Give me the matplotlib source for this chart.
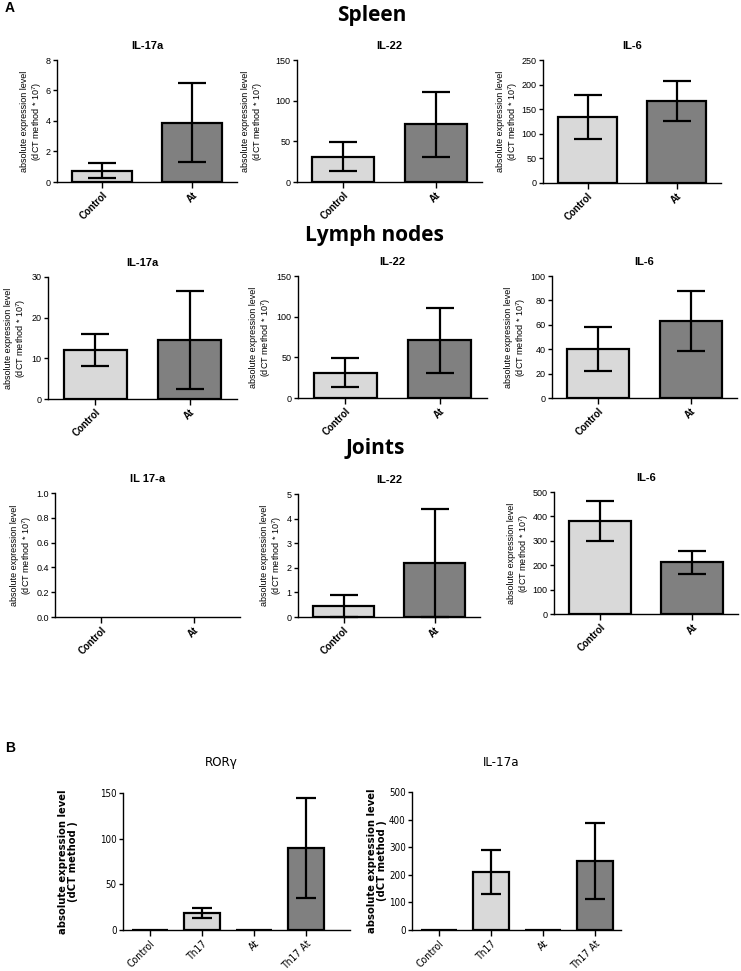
import matplotlib.pyplot as plt
from matplotlib import font_manager
from matplotlib.ticker import FormatStrFormatter
import numpy as np

W, H = 741, 971

groups_a = ['Control', 'At']
groups_b = ['Control', 'Th17', 'At', 'Th17 At']
light, dark = '#d9d9d9', '#808080'

# panel A: means and error bars
spleen_il17a = [0.75, 3.9]
spleen_il17a_err = [0.5, 2.6]
spleen_il22 = [31, 71]
spleen_il22_err = [18, 40]
spleen_il6 = [134, 167]
spleen_il6_err = [45, 41]

lymph_il17a = [12, 14.5]
lymph_il17a_err = [4, 12]
lymph_il22 = [31, 71]
lymph_il22_err = [18, 40]
lymph_il6 = [40.5, 63]
lymph_il6_err = [18, 24.5]

joints_il22 = [0.45, 2.2]
joints_il22_err = [0.45, 2.2]
joints_il6 = [382, 212]
joints_il6_err = [81, 48]

# panel B
ror_gamma = [0.5, 19, 0.5, 90]
ror_gamma_err = [0, 5.5, 0, 55]
b_il17a = [1.5, 210, 1.5, 250]
b_il17a_err = [0, 81, 0, 137]

plt.rcParams['font.family'] = ['Liberation Sans', 'DejaVu Sans']
plt.rcParams['mathtext.default'] = 'regular'

# panel B uses a condensed face in the original
fonts = font_manager.fontManager.ttflist
if any(f.name == 'Liberation Sans Narrow' for f in fonts):
    narrow = dict(family='Liberation Sans Narrow')
elif any(f.name == 'DejaVu Sans' and f.stretch == 'condensed' for f in fonts):
    narrow = dict(family='DejaVu Sans', stretch='condensed')
else:
    narrow = dict(family='Liberation Sans')


def px_axes(fig, left, right, top, bottom):
    return fig.add_axes([left / W, 1 - bottom / H, (right - left) / W, (bottom - top) / H])


def style_axes(ax, labelsize=6.5):
    for side in ['top', 'right']:
        ax.spines[side].set_visible(False)
    for side in ['left', 'bottom']:
        ax.spines[side].set_linewidth(1.0)
    ax.tick_params(axis='y', length=3, width=1, pad=1.5, labelsize=labelsize)
    ax.tick_params(axis='x', length=4, width=1, pad=2)


def draw_bars(ax, values, errors, colors, width, capsize):
    x = np.arange(len(values))
    ax.bar(x, values, width=width, color=colors, edgecolor='black', linewidth=1.6, zorder=2)
    keep = [i for i, e in enumerate(errors) if e > 0]
    ax.errorbar(x[keep], np.array(values)[keep], yerr=np.array(errors)[keep], fmt='none',
                ecolor='black', elinewidth=1.6, capsize=capsize, capthick=1.6, zorder=3, clip_on=False)


def panel_a(fig, box, title, ymax, step, values=None, errors=None, pad=1.5, fmt=None):
    left, right, top, bottom = box
    ax = px_axes(fig, left, right, top, bottom)
    style_axes(ax)
    if values is not None:
        draw_bars(ax, values, errors, [light, dark], 0.67, 10)
    ax.set_xlim(-0.5, 1.5)
    ax.set_ylim(0, ymax)
    ax.set_yticks(np.arange(0, ymax + step / 2, step))
    if fmt:
        ax.yaxis.set_major_formatter(FormatStrFormatter(fmt))
    ax.set_xticks(range(len(groups_a)), groups_a, rotation=45, ha='right', rotation_mode='anchor',
                  fontsize=7, fontweight='bold')
    ax.set_title(title, fontsize=8, fontweight='bold', pad=8)
    ax.set_ylabel('absolute expression level\n(dCT method * 10$^7$)', fontsize=6.5,
                  linespacing=1.1, labelpad=pad)
    return ax


def panel_b(fig, box, title, ymax, step, values, errors, pad, xmax):
    left, right, top, bottom = box
    ax = px_axes(fig, left, right, top, bottom)
    style_axes(ax, labelsize=7)
    draw_bars(ax, values, errors, [light, light, dark, dark], 0.68, 7)
    ax.set_xlim(-0.52, xmax)
    ax.set_ylim(0, ymax)
    ticks = np.arange(0, ymax + step / 2, step)
    ax.set_yticks(ticks, [f'{v:g}' for v in ticks], fontsize=7, **narrow)
    ax.set_xticks(range(len(groups_b)), groups_b, rotation=45, ha='right', rotation_mode='anchor',
                  fontsize=7.5, **narrow)
    ax.set_ylabel('absolute expression level\n(dCT method )', fontsize=8, fontweight='bold',
                  linespacing=1.0, labelpad=pad, **narrow)
    fig.text((left + right) / 2 / W - 0.02, 1 - 762 / H, title, fontsize=9.5,
             ha='center', va='center', **narrow)
    return ax


fig = plt.figure(figsize=(W / 100, H / 100), dpi=100)

fig.text(5 / W, 1 - 8 / H, 'A', fontsize=10, fontweight='bold', va='center')
fig.text(5 / W, 1 - 748 / H, 'B', fontsize=10, fontweight='bold', va='center')

heading = dict(fontsize=15, fontweight='bold', family=['Open Sans', 'DejaVu Sans'], ha='center', va='center')
fig.text(372 / W, 1 - 15 / H, 'Spleen', **heading)
fig.text(374 / W, 1 - 235 / H, 'Lymph nodes', **heading)
fig.text(375 / W, 1 - 448 / H, 'Joints', **heading)

# spleen row
panel_a(fig, (57, 237, 60, 182), 'IL-17a', 8, 2, spleen_il17a, spleen_il17a_err)
panel_a(fig, (297, 482, 60, 182), 'IL-22', 150, 50, spleen_il22, spleen_il22_err, pad=8)
panel_a(fig, (543, 721, 60, 183), 'IL-6', 250, 50, spleen_il6, spleen_il6_err)

# lymph node row
panel_a(fig, (48, 237, 277, 399), 'IL-17a', 30, 10, lymph_il17a, lymph_il17a_err, pad=3)
panel_a(fig, (298, 487, 276, 398), 'IL-22', 150, 50, lymph_il22, lymph_il22_err, pad=3)
panel_a(fig, (552, 737, 276, 398), 'IL-6', 100, 20, lymph_il6, lymph_il6_err, pad=2)

# joints row
panel_a(fig, (55, 240, 493, 617), 'IL 17-a', 1.0, 0.2, fmt='%.1f')
panel_a(fig, (298, 480, 494, 617), 'IL-22', 5, 1, joints_il22, joints_il22_err, pad=2)
panel_a(fig, (554, 738, 492, 614), 'IL-6', 500, 100, joints_il6, joints_il6_err)

# panel B
panel_b(fig, (123, 350, 793, 930), 'ROR\u03b3', 150, 50, ror_gamma, ror_gamma_err, 16, 3.85)
panel_b(fig, (412, 621, 792, 930), 'IL-17a', 500, 100, b_il17a, b_il17a_err, 1, 3.5)

fig.savefig('out.png', dpi=100)
